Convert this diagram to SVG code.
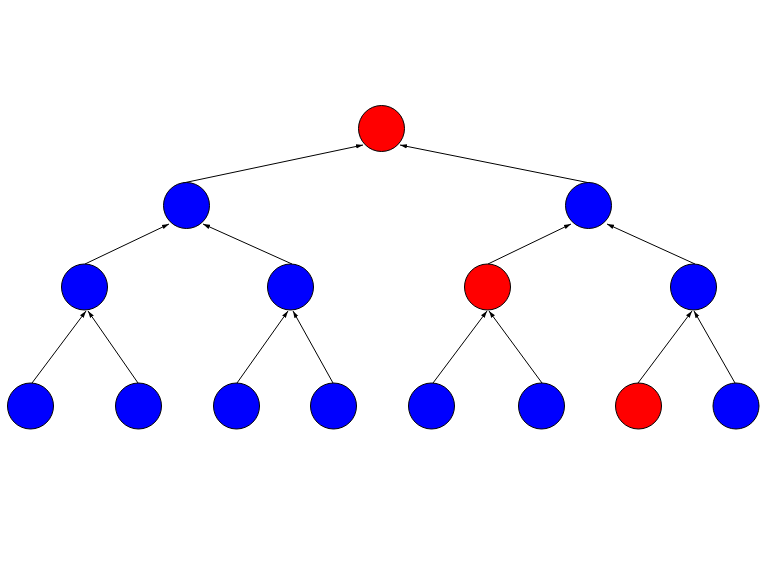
<svg xmlns="http://www.w3.org/2000/svg" width="768" height="576" viewBox="0 0 768 576">
<style>
.n{stroke:#000;stroke-width:1}
.r{fill:#ff0000}
.b{fill:#0000ff}
.e{stroke:#000;stroke-width:1;fill:none;marker-end:url(#ah)}
</style>
<defs>
<marker id="ah" markerWidth="8" markerHeight="6" refX="7" refY="3" orient="auto" markerUnits="userSpaceOnUse">
<path d="M0,0.8 L7,3 L0,5.2 Z" fill="#000"/>
</marker>
</defs>
<rect width="768" height="576" fill="#fff"/>
<g id="edges">
<line class="e" x1="183" y1="183" x2="363" y2="145"/>
<line class="e" x1="590" y1="183" x2="400" y2="145"/>
<line class="e" x1="85" y1="264" x2="169" y2="224"/>
<line class="e" x1="292" y1="264" x2="203" y2="224"/>
<line class="e" x1="488" y1="264" x2="571" y2="224"/>
<line class="e" x1="695" y1="264" x2="607" y2="224"/>
<line class="e" x1="32" y1="383" x2="86" y2="311"/>
<line class="e" x1="138" y1="383" x2="88" y2="311"/>
<line class="e" x1="237" y1="383" x2="288" y2="311"/>
<line class="e" x1="333" y1="383" x2="293" y2="311"/>
<line class="e" x1="433" y1="383" x2="487" y2="311"/>
<line class="e" x1="542" y1="383" x2="489" y2="311"/>
<line class="e" x1="638" y1="383" x2="692" y2="311"/>
<line class="e" x1="735" y1="383" x2="694" y2="311"/>
</g>
<g id="n0"><circle class="n r" cx="381.5" cy="128.5" r="23"/></g>
<g id="n1"><circle class="n b" cx="186.5" cy="205.5" r="23"/></g>
<g id="n2"><circle class="n b" cx="588.5" cy="205.5" r="23"/></g>
<g id="n3"><circle class="n b" cx="84.5" cy="287" r="23"/></g>
<g id="n4"><circle class="n b" cx="290.5" cy="287" r="23"/></g>
<g id="n5"><circle class="n r" cx="487.5" cy="287" r="23"/></g>
<g id="n6"><circle class="n b" cx="693.5" cy="287" r="23"/></g>
<g id="n7"><circle class="n b" cx="30.5" cy="406" r="23"/></g>
<g id="n8"><circle class="n b" cx="138.5" cy="406" r="23"/></g>
<g id="n9"><circle class="n b" cx="236.5" cy="406" r="23"/></g>
<g id="n10"><circle class="n b" cx="333.5" cy="406" r="23"/></g>
<g id="n11"><circle class="n b" cx="431.5" cy="406" r="23"/></g>
<g id="n12"><circle class="n b" cx="541.5" cy="406" r="23"/></g>
<g id="n13"><circle class="n r" cx="638.5" cy="406" r="23"/></g>
<g id="n14"><circle class="n b" cx="736" cy="406" r="23"/></g>
</svg>
